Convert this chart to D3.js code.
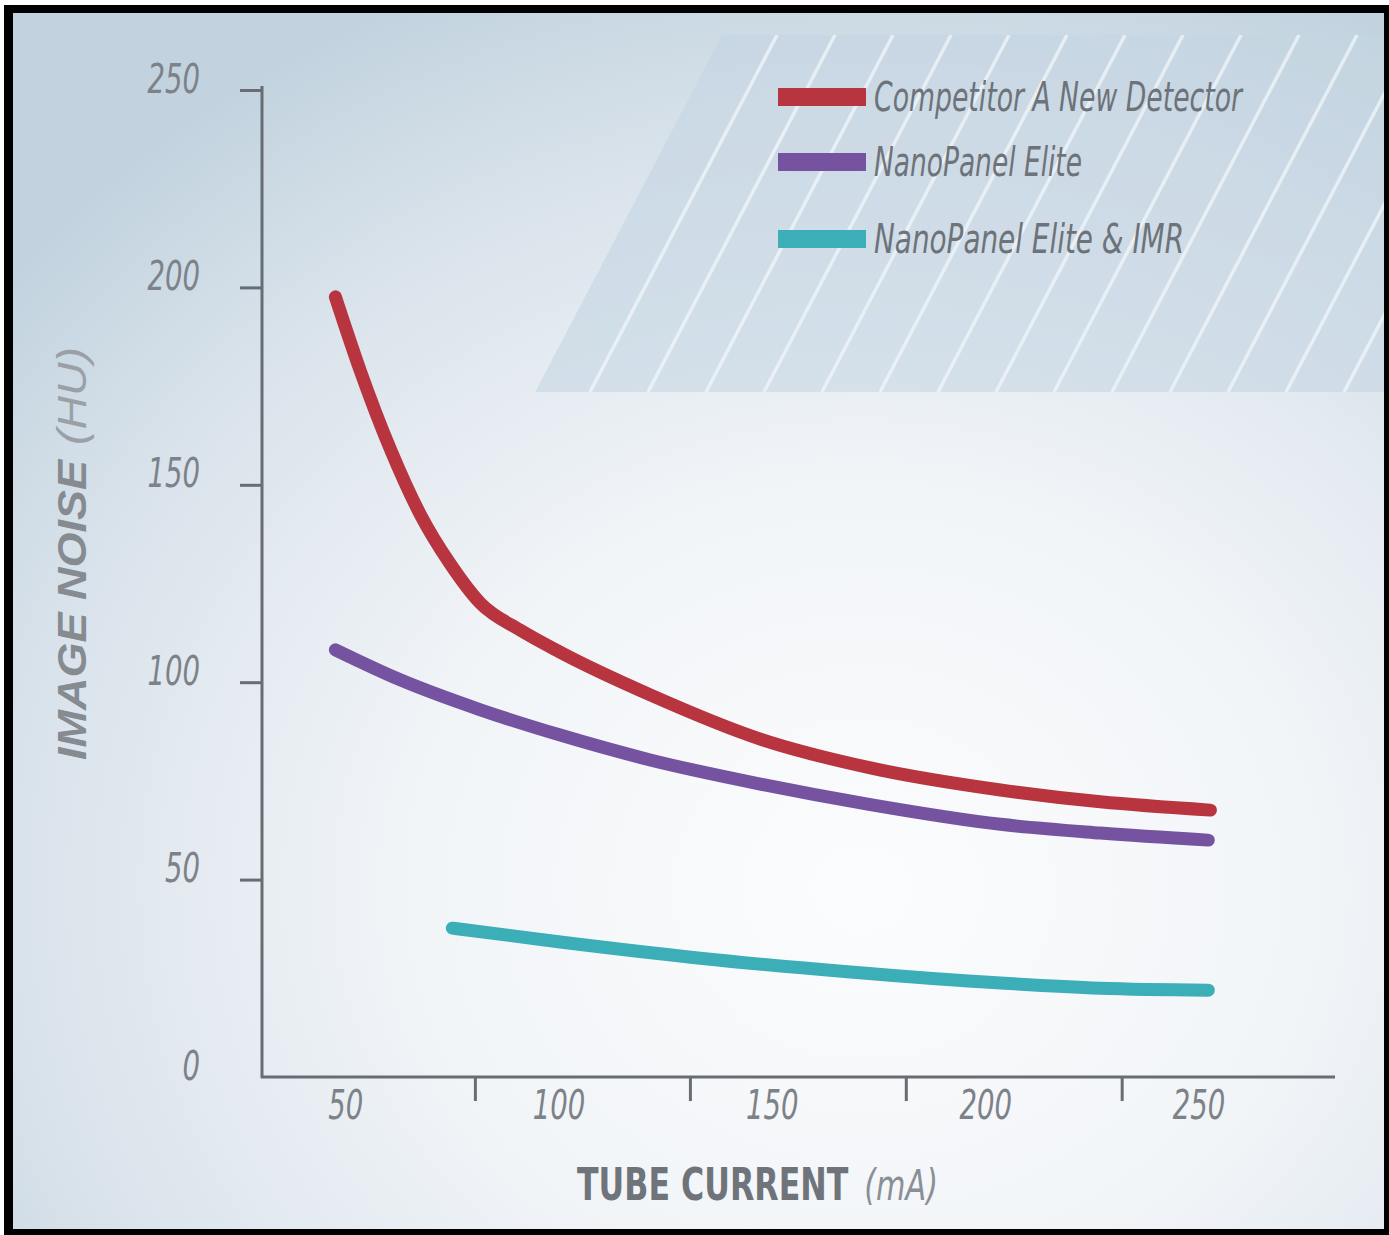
<!DOCTYPE html>
<html>
<head>
<meta charset="utf-8">
<script src="https://cdn.jsdelivr.net/npm/d3@7"></script>
<style>
  html, body { margin: 0; padding: 0; background: #fff; }
  svg { display: block; }
  .tick text { font-family: "Liberation Sans Narrow", "DejaVu Sans Condensed", sans-serif; font-style: italic; fill: #7d8288; }
</style>
</head>
<body>
<svg id="chart" width="1389" height="1235"></svg>
<script>
(function () {
    var W = 1389, H = 1235

    // data: [tube current mA, image noise HU]
    var seriesNames = ["Competitor A New Detector", "NanoPanel Elite", "NanoPanel Elite & IMR"]
    var seriesColors = ["#b8343f", "#7653a0", "#3caeb7"]
    var competitorA = [[47.7, 197.6], [53.5, 179], [60.6, 159], [67.6, 142.5], [74.6, 130], [81.7, 120], [91, 113.2],
        [100.4, 107.6], [121.5, 96.8], [147.3, 85.6], [173.1, 78.3], [203.6, 72.7], [227, 69.7], [252.8, 67.6]]
    var nanoPanel = [[47.7, 108.2], [62.9, 100.6], [81.7, 93], [100.4, 86.6], [121.5, 80.3], [147.3, 74.2],
        [173.1, 69], [203.6, 64], [227, 61.8], [252.3, 60]]
    var nanoPanelIMR = [[75.1, 37.7], [100.4, 34.2], [133.2, 30.1], [168.4, 26.6], [203.6, 23.8], [227, 22.5], [252.3, 22]]
    var xLabels = [50, 100, 150, 200, 250]
    var xTickMarks = [80.4, 130.8, 181.4, 232]
    var yLabels = [0, 50, 100, 150, 200, 250]
    var yTickMarks = [50, 100, 150, 200, 250]

    var narrow = "'Liberation Sans Narrow', 'DejaVu Sans Condensed', sans-serif"
    var svg = d3.select("#chart")
    var defs = svg.append("defs")

    //background gradient
    var bg = defs.append("radialGradient").attr("id", "bg")
        .attr("cx", "0.62").attr("cy", "0.72").attr("r", "0.8")
    bg.append("stop").attr("offset", "0").attr("stop-color", "#fbfcfd")
    bg.append("stop").attr("offset", "0.4").attr("stop-color", "#f2f5f8")
    bg.append("stop").attr("offset", "0.75").attr("stop-color", "#dbe4ec")
    bg.append("stop").attr("offset", "1").attr("stop-color", "#c2d3df")

    svg.append("rect").attr("x", 0).attr("y", 0).attr("width", W).attr("height", H).attr("fill", "#fff")
    svg.append("rect").attr("x", 13).attr("y", 13).attr("width", W - 13 - 5).attr("height", H - 13 - 6)
        .attr("fill", "url(#bg)")

    //hatched panel top right
    var panel = [[535, 392], [722, 35], [1384, 35], [1384, 392]]
    defs.append("clipPath").attr("id", "panelClip")
        .append("polygon").attr("points", panel.join(" "))
    var hatch = svg.append("g").attr("clip-path", "url(#panelClip)")
    hatch.append("polygon").attr("points", panel.join(" ")).attr("fill", "#c4d5e2").attr("opacity", 0.6)
    var slope = (722 - 535) / (392 - 35)
    hatch.selectAll("line").data(d3.range(0, 17)).join("line")
        .attr("x1", (d) => 535 + 55 + d * 58)
        .attr("y1", 392)
        .attr("x2", (d) => 535 + 55 + d * 58 + 357 * slope)
        .attr("y2", 35)
        .attr("stroke", "#f4f8fb").attr("stroke-width", 3.5).attr("opacity", 0.7)

    //scales
    var x = d3.scaleLinear().domain([30.5, 282]).range([262, 1335])
    var y = d3.scaleLinear().domain([0, 250]).range([1077, 90])
    var axisColor = "#676d73"

    //y axis
    var yAxis = svg.append("g").attr("transform", "translate(262,0)")
        .call(d3.axisLeft(y).tickValues(yLabels).tickSize(22).tickPadding(40))
    yAxis.select(".domain").remove()
    yAxis.selectAll(".tick line").attr("stroke", (d) => yTickMarks.includes(d) ? axisColor : "none").attr("stroke-width", 3)
    yAxis.selectAll(".tick text").attr("font-size", 40).attr("dy", "0.05em")
        .attr("textLength", (d) => String(d).length * 17.5).attr("lengthAdjust", "spacingAndGlyphs")
    svg.append("line").attr("x1", 262).attr("x2", 262).attr("y1", 86).attr("y2", 1078)
        .attr("stroke", axisColor).attr("stroke-width", 3)

    //x axis: labels and the tick marks sit at different places
    var xAxis = svg.append("g").attr("transform", "translate(0,1077)")
        .call(d3.axisBottom(x).tickValues(xLabels).tickSize(0).tickPadding(14))
    xAxis.select(".domain").remove()
    xAxis.selectAll(".tick text").attr("font-size", 40)
        .attr("textLength", (d) => String(d).length * 17.5).attr("lengthAdjust", "spacingAndGlyphs")
    var xMarks = svg.append("g").attr("transform", "translate(0,1077)")
        .call(d3.axisBottom(x).tickValues(xTickMarks).tickSize(24).tickFormat(""))
    xMarks.select(".domain").remove()
    xMarks.selectAll(".tick line").attr("stroke", axisColor).attr("stroke-width", 3)
    svg.append("line").attr("x1", 261).attr("x2", 1335).attr("y1", 1077).attr("y2", 1077)
        .attr("stroke", axisColor).attr("stroke-width", 3)

    //curves
    var line = d3.line().x((d) => x(d[0])).y((d) => y(d[1])).curve(d3.curveMonotoneX)
    var allSeries = [competitorA, nanoPanel, nanoPanelIMR]
    svg.append("g").selectAll("path").data(allSeries).join("path")
        .attr("d", line)
        .attr("fill", "none")
        .attr("stroke", (d, i) => seriesColors[i])
        .attr("stroke-width", 13)
        .attr("stroke-linecap", "round")

    //legend
    var legendY = [97, 162, 239]
    var legendLen = [368, 208, 310]
    var legend = svg.append("g")
    legend.selectAll("rect").data(seriesNames).join("rect")
        .attr("x", 778).attr("y", (d, i) => legendY[i] - 9)
        .attr("width", 88).attr("height", 18)
        .attr("fill", (d, i) => seriesColors[i])
    legend.selectAll("text").data(seriesNames).join("text")
        .attr("x", 874).attr("y", (d, i) => legendY[i] + 14)
        .attr("font-family", narrow)
        .attr("font-style", "italic")
        .attr("font-size", 40)
        .attr("fill", "#6d7379")
        .attr("textLength", (d, i) => legendLen[i]).attr("lengthAdjust", "spacingAndGlyphs")
        .text((d) => d)

    //x axis title: two texts squeezed together with one scale
    var xt = svg.append("g")
    var t1 = xt.append("text").attr("x", 0).attr("y", 0)
        .attr("font-family", narrow).attr("font-weight", "bold")
        .attr("font-size", 44).attr("fill", "#6f747a")
        .text("TUBE CURRENT")
    var w1 = t1.node().getComputedTextLength()
    var t2 = xt.append("text").attr("x", w1 + 20).attr("y", 0)
        .attr("font-family", narrow).attr("font-style", "italic")
        .attr("font-size", 42).attr("fill", "#8a8f95")
        .text("(mA)")
    var wAll = w1 + 20 + t2.node().getComputedTextLength()
    xt.attr("transform", "translate(577,1200) scale(" + (361 / wAll) + ",1)")

    svg.append("text").attr("transform", "translate(86,760) rotate(-90)")
        .attr("font-family", "'Liberation Sans', 'DejaVu Sans', sans-serif")
        .attr("font-weight", "bold").attr("font-style", "italic")
        .attr("font-size", 41).attr("fill", "#858b91")
        .attr("textLength", 300).attr("lengthAdjust", "spacingAndGlyphs")
        .text("IMAGE NOISE")
    svg.append("text").attr("transform", "translate(86,445) rotate(-90)")
        .attr("font-family", "'Liberation Sans', 'DejaVu Sans', sans-serif")
        .attr("font-style", "italic")
        .attr("font-size", 41).attr("fill", "#9ba0a6")
        .attr("textLength", 98).attr("lengthAdjust", "spacingAndGlyphs")
        .text("(HU)")

    //black frame
    svg.append("path")
        .attr("d", "M0,0H" + W + "V" + H + "H0Z M13,13V1229H1384V13Z")
        .attr("fill-rule", "evenodd").attr("fill", "#000")
    svg.append("rect").attr("x", 0).attr("y", 0).attr("width", W).attr("height", 5).attr("fill", "#fff")
    svg.append("rect").attr("x", 0).attr("y", 0).attr("width", 4).attr("height", H).attr("fill", "#fff")
})();
</script>
</body>
</html>
